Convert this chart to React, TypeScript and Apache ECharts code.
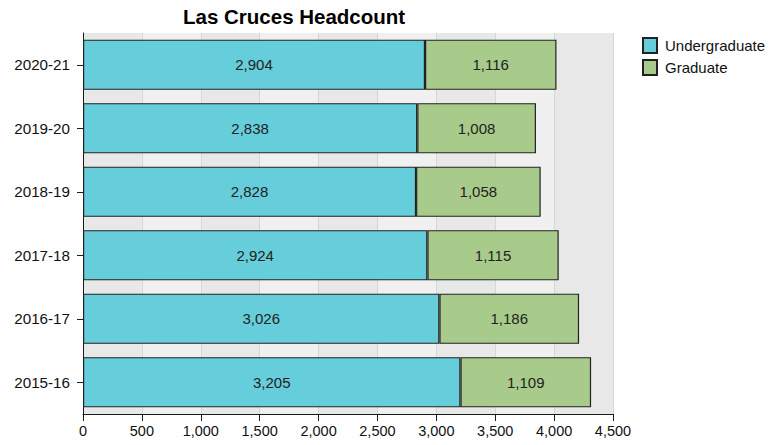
import React, { useEffect, useRef } from "react";
import * as echarts from "echarts";

const categories = ["2015-16", "2016-17", "2017-18", "2018-19", "2019-20", "2020-21"];
const undergraduate = [3205, 3026, 2924, 2828, 2838, 2904];
const graduate = [1109, 1186, 1115, 1058, 1008, 1116];
const xTicks = { min: 0, max: 4500, interval: 500 };

const FONT = "'Liberation Sans', Arial, sans-serif";

export default function App() {
  const ref = useRef<HTMLDivElement>(null);
  useEffect(() => {
    if (!ref.current) return;
    const chart = echarts.init(ref.current, undefined, { renderer: "svg" });
    const fmt = (v: number) => v.toLocaleString("en-US");
    chart.setOption({
      animation: false,
      textStyle: { fontFamily: FONT },
      title: {
        text: "Las Cruces Headcount",
        left: 183,
        top: 6,
        padding: 0,
        textStyle: { fontFamily: FONT, fontSize: 20.5, fontWeight: "bold", color: "#000" },
      },
      legend: {
        orient: "vertical",
        left: 642,
        top: 37,
        itemWidth: 14,
        itemHeight: 15,
        itemGap: 5,
        icon: "rect",
        padding: 0,
        textStyle: {
          fontFamily: FONT,
          fontSize: 15,
          lineHeight: 15,
          color: "#111",
          padding: [0, 0, 0, 3],
        },
        data: ["Undergraduate", "Graduate"],
      },
      grid: { left: 83, right: 158, top: 33, bottom: 31, containLabel: false },
      xAxis: {
        type: "value",
        min: xTicks.min,
        max: xTicks.max,
        interval: xTicks.interval,
        axisLine: { show: true, lineStyle: { color: "#1a1a1a", width: 1 } },
        axisTick: { show: true, length: 7, lineStyle: { color: "#1a1a1a" } },
        axisLabel: {
          fontFamily: FONT,
          fontSize: 14.5,
          color: "#111",
          margin: 9,
          formatter: (v: number) => fmt(v),
        },
        splitLine: { show: true, lineStyle: { color: "#d6d6d6", width: 1 } },
        splitArea: { show: true, areaStyle: { color: ["#e8e8e8", "#f0f0f0"] } },
      },
      yAxis: {
        type: "category",
        data: categories,
        axisLine: { show: true, lineStyle: { color: "#1a1a1a", width: 1 } },
        axisTick: { show: true, alignWithLabel: true, length: 6, lineStyle: { color: "#1a1a1a" } },
        axisLabel: { fontFamily: FONT, fontSize: 15.2, color: "#111", margin: 13 },
        splitLine: { show: false },
      },
      series: [
        {
          name: "Undergraduate",
          type: "bar",
          stack: "total",
          data: undergraduate,
          barCategoryGap: "21%",
          itemStyle: { color: "#66cedb", borderColor: "#222", borderWidth: 1.2 },
          label: {
            show: true,
            position: "inside",
            fontFamily: FONT,
            fontSize: 15,
            color: "#222",
            formatter: (p: any) => fmt(p.value),
          },
        },
        {
          name: "Graduate",
          type: "bar",
          stack: "total",
          data: graduate,
          barCategoryGap: "21%",
          itemStyle: { color: "#a8cb8b", borderColor: "#222", borderWidth: 1.2 },
          label: {
            show: true,
            position: "inside",
            fontFamily: FONT,
            fontSize: 15,
            color: "#222",
            formatter: (p: any) => fmt(p.value),
          },
        },
      ],
    });
    return () => chart.dispose();
  }, []);
  return (
    <div
      ref={ref}
      style={{ position: "fixed", left: 0, top: 0, width: 771, height: 445, background: "#fff" }}
    />
  );
}
